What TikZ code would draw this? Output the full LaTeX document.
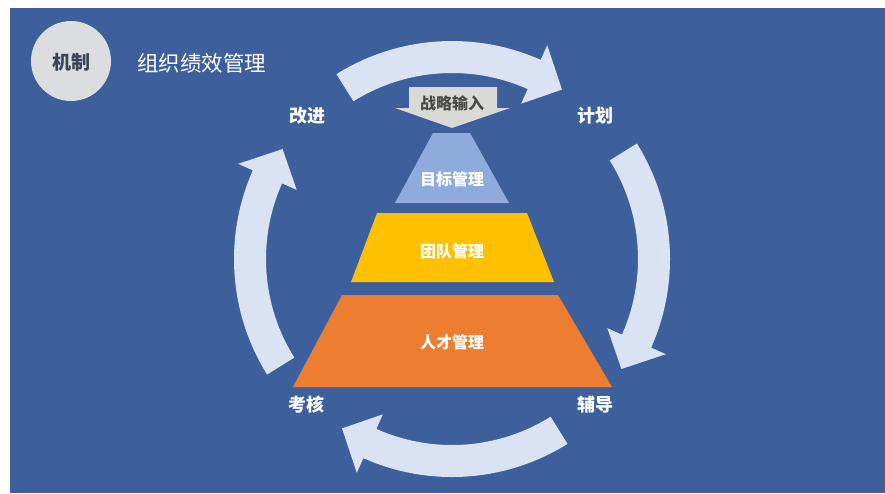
\documentclass[tikz,border=0pt]{standalone}
\usepackage{fontspec}
\setmainfont{Noto Sans CJK SC}
\usetikzlibrary{calc}
\definecolor{bgc}{HTML}{3D609C}
\definecolor{cycc}{HTML}{DAE3F3}
\definecolor{pbluec}{HTML}{8FAADC}
\definecolor{pyellowc}{HTML}{FFC000}
\definecolor{porangec}{HTML}{ED7D31}
\definecolor{inputc}{HTML}{D9D9D6}
\definecolor{circc}{HTML}{DCDDE1}
\definecolor{darktxt}{HTML}{3A4456}
\definecolor{inputtxt}{HTML}{4A4A4A}
\tikzset{
  cyc/.style={fill=cycc},
  steplabel/.style={text=white,font=\bfseries\fontsize{18}{18}\selectfont,inner sep=0pt},
  pyrlabel/.style={text=white,font=\bfseries\fontsize{16}{16}\selectfont,inner sep=0pt},
}
\begin{document}
\begin{tikzpicture}[x=1pt,y=-1pt]
\useasboundingbox (0,0) rectangle (885,493);
\fill[white] (0,0) rectangle (885,493);
\fill[bgc] (10,8) rectangle (885,493);
% header
\node[circle,fill=circc,minimum size=80pt,inner sep=0pt] (mech) at (71,61) {};
\node[text=darktxt,font=\bfseries\fontsize{19}{19}\selectfont,inner sep=0pt] (mechtxt) at (71,62) {机制};
\node[text=white,font=\fontsize{21.5}{21.5}\selectfont,anchor=west,inner sep=0pt] (title) at (137,63) {组织绩效管理};
% cycle arrows
\coordinate (C) at (452,259);
\foreach \k in {0,1,2,3}{
  \pgfmathsetmacro\ta{-122+90*\k}
  \pgfmathsetmacro\th{-66+90*\k}
  \pgfmathsetmacro\tp{-57+90*\k}
  \fill[cyc] ($(C)+(\ta:218)$) arc[start angle=\ta, end angle=\th, radius=218]
    -- ($(C)+(\th:234)$) -- ($(C)+(\tp:202)$) -- ($(C)+(\th:170)$)
    -- ($(C)+(\th:186)$) arc[start angle=\th, end angle=\ta, radius=186] -- cycle;
}
% strategy input arrow
\fill[inputc] (409,87) -- (497,87) -- (497,108) -- (510,108) -- (452,128) -- (395,108) -- (409,108) -- cycle;
\node[text=inputtxt,font=\bfseries\fontsize{16}{16}\selectfont,inner sep=0pt] (input) at (452,103) {战略输入};
% pyramid
\fill[pbluec] (433,133) -- (470,133) -- (509,203) -- (395,203) -- cycle;
\node[pyrlabel] (goal) at (452,179) {目标管理};
\fill[pyellowc] (377,213) -- (527,213) -- (554,282) -- (351,282) -- cycle;
\node[pyrlabel] (team) at (452,251) {团队管理};
\fill[porangec] (342,295) -- (558,295) -- (612,387) -- (293,387) -- cycle;
\node[pyrlabel] (talent) at (452,342) {人才管理};
% step labels
\node[steplabel] (improve) at (307,116) {改进};
\node[steplabel] (plan) at (595,116) {计划};
\node[steplabel] (assess) at (306,405) {考核};
\node[steplabel] (coach) at (595,405) {辅导};
\end{tikzpicture}
\end{document}
